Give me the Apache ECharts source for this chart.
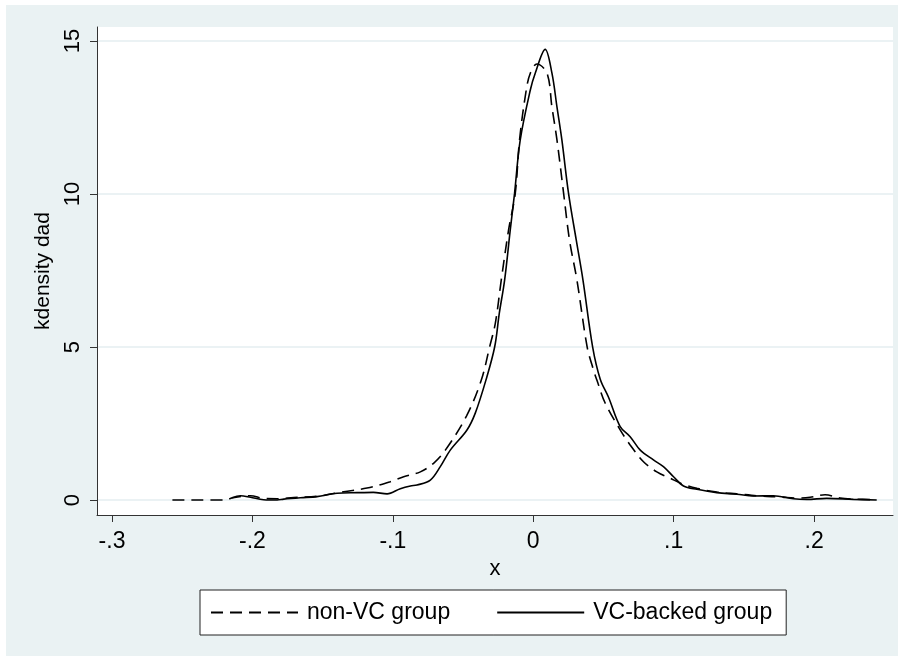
<!DOCTYPE html>
<html>
<head>
<meta charset="utf-8">
<script src="https://cdn.jsdelivr.net/npm/echarts@6/dist/echarts.min.js"></script>
<style>
  html, body { margin: 0; padding: 0; background: #fff; }
  #chart { width: 904px; height: 661px; }
</style>
</head>
<body>
<div id="chart"></div>
<script>
// kernel density estimates
const xTicks = [-0.3, -0.2, -0.1, 0, 0.1, 0.2];
const yTicks = [0, 5, 10, 15];

const nonVcX = [-0.257, -0.219, -0.2145, -0.2014, -0.192, -0.1824, -0.1706, -0.154, -0.135, -0.1184, -0.1018, -0.0923, -0.0804, -0.071, -0.0626, -0.0475, -0.037, -0.0311, -0.027, -0.0228, -0.0176, -0.0128, -0.0098, -0.005, -0.0021, 0.0026, 0.0098, 0.0133, 0.0169, 0.0216, 0.0258, 0.0311, 0.0384, 0.0429, 0.0453, 0.0512, 0.0619, 0.069, 0.0785, 0.088, 0.0975, 0.107, 0.1165, 0.1307, 0.145, 0.1616, 0.1758, 0.1877, 0.1972, 0.2078, 0.2185, 0.228, 0.2446];
const nonVcY = [0, 0, 0.07, 0.14, 0.05, 0.04, 0.08, 0.12, 0.27, 0.39, 0.6, 0.76, 0.92, 1.2, 1.63, 2.75, 3.92, 5.0, 5.78, 7.19, 8.82, 10.03, 11.76, 13.4, 13.95, 14.25, 13.95, 12.84, 11.76, 10.03, 8.5, 7.19, 5.0, 4.25, 3.92, 3.17, 2.29, 1.8, 1.25, 0.92, 0.71, 0.51, 0.38, 0.26, 0.2, 0.13, 0.1, 0.065, 0.09, 0.17, 0.065, 0.03, 0.01];

const vcX = [-0.2145, -0.2085, -0.2014, -0.192, -0.1824, -0.1777, -0.1658, -0.154, -0.1397, -0.1255, -0.1139, -0.1041, -0.0947, -0.0875, -0.0828, -0.0733, -0.0662, -0.0591, -0.0472, -0.0413, -0.0337, -0.0275, -0.0242, -0.0204, -0.0164, -0.0133, -0.0093, -0.0021, 0.0014, 0.0085, 0.0133, 0.0169, 0.0204, 0.0251, 0.0306, 0.0354, 0.0423, 0.0477, 0.0536, 0.0619, 0.069, 0.0762, 0.0856, 0.0927, 0.0999, 0.107, 0.1165, 0.1307, 0.145, 0.1568, 0.171, 0.1853, 0.1948, 0.209, 0.228, 0.2446];
const vcY = [0.07, 0.14, 0.09, 0.01, 0, 0.03, 0.075, 0.11, 0.22, 0.24, 0.25, 0.2, 0.37, 0.46, 0.49, 0.65, 1.09, 1.63, 2.29, 2.84, 3.92, 5.0, 6.1, 7.19, 8.82, 10.03, 11.76, 13.4, 13.95, 14.73, 13.95, 12.84, 11.76, 10.03, 8.5, 7.19, 5.0, 3.95, 3.36, 2.4, 2.07, 1.63, 1.31, 1.09, 0.76, 0.46, 0.35, 0.24, 0.19, 0.13, 0.14, 0.04, 0.02, 0.055, 0.02, 0];

const zip = (xs, ys) => xs.map((x, i) => [x, ys[i]]);
const font = '"Liberation Sans", Arial, Helvetica, sans-serif';
const bgBlue = '#eaf2f3';

// stata style labels: -.3, 0, .1
const fmtX = v => {
  if (Math.abs(v) < 1e-9) return '0';
  return (v < 0 ? '-' : '') + String(Math.abs(+v.toFixed(2))).replace(/^0/, '');
};

const chart = echarts.init(document.getElementById('chart'));

chart.setOption({
  animation: false,
  backgroundColor: '#fff',
  graphic: [{
    type: 'rect',
    z: -10,
    silent: true,
    shape: { x: 6, y: 5, width: 892, height: 651 },
    style: { fill: bgBlue }
  }],
  grid: {
    left: 97,
    right: 11,
    top: 27,
    bottom: 146,
    show: true,
    backgroundColor: '#fff',
    borderWidth: 0
  },
  legend: {
    left: 200,
    top: 590,
    padding: [11, 14, 11, 10],
    itemWidth: 87,
    itemHeight: 14,
    itemGap: 46,
    backgroundColor: '#fff',
    borderColor: '#222',
    borderWidth: 1,
    borderRadius: 0,
    itemStyle: { opacity: 0 },
    textStyle: { fontFamily: font, fontSize: 23, color: '#000', lineHeight: 23, padding: [0, 0, 0, 4] },
    data: ['non-VC group', 'VC-backed group']
  },
  xAxis: {
    type: 'value',
    min: -0.3107,
    max: 0.2562,
    name: 'x',
    nameLocation: 'middle',
    nameGap: 42,
    nameTextStyle: { fontFamily: font, fontSize: 22, color: '#000' },
    axisLine: { onZero: false, lineStyle: { color: '#333', width: 1 } },
    axisTick: { show: true, length: 7, customValues: xTicks, lineStyle: { color: '#333' } },
    axisLabel: {
      customValues: xTicks,
      margin: 15,
      fontFamily: font,
      fontSize: 23,
      color: '#000',
      formatter: fmtX
    },
    splitLine: { show: false }
  },
  yAxis: {
    type: 'value',
    min: -0.49,
    max: 15.46,
    name: 'kdensity dad',
    nameLocation: 'middle',
    nameGap: 33,
    nameTextStyle: { fontFamily: font, fontSize: 21, color: '#000' },
    axisLine: { show: true, onZero: false, lineStyle: { color: '#333', width: 1 } },
    axisTick: { show: true, length: 7, customValues: yTicks, lineStyle: { color: '#333' } },
    axisLabel: {
      customValues: yTicks,
      rotate: 90,
      margin: 13,
      fontFamily: font,
      fontSize: 22,
      color: '#000'
    },
    splitLine: { show: true, lineStyle: { color: '#e4eef0', width: 1.5 } }
  },
  series: [
    {
      name: 'non-VC group',
      type: 'line',
      showSymbol: false,
      symbol: 'none',
      smooth: 0.35,
      lineStyle: { color: '#000', width: 1.6, type: [12, 7] },
      itemStyle: { color: '#000' },
      data: zip(nonVcX, nonVcY)
    },
    {
      name: 'VC-backed group',
      type: 'line',
      showSymbol: false,
      symbol: 'none',
      smooth: 0.35,
      lineStyle: { color: '#000', width: 1.6 },
      itemStyle: { color: '#000' },
      data: zip(vcX, vcY)
    }
  ]
});
</script>
</body>
</html>
